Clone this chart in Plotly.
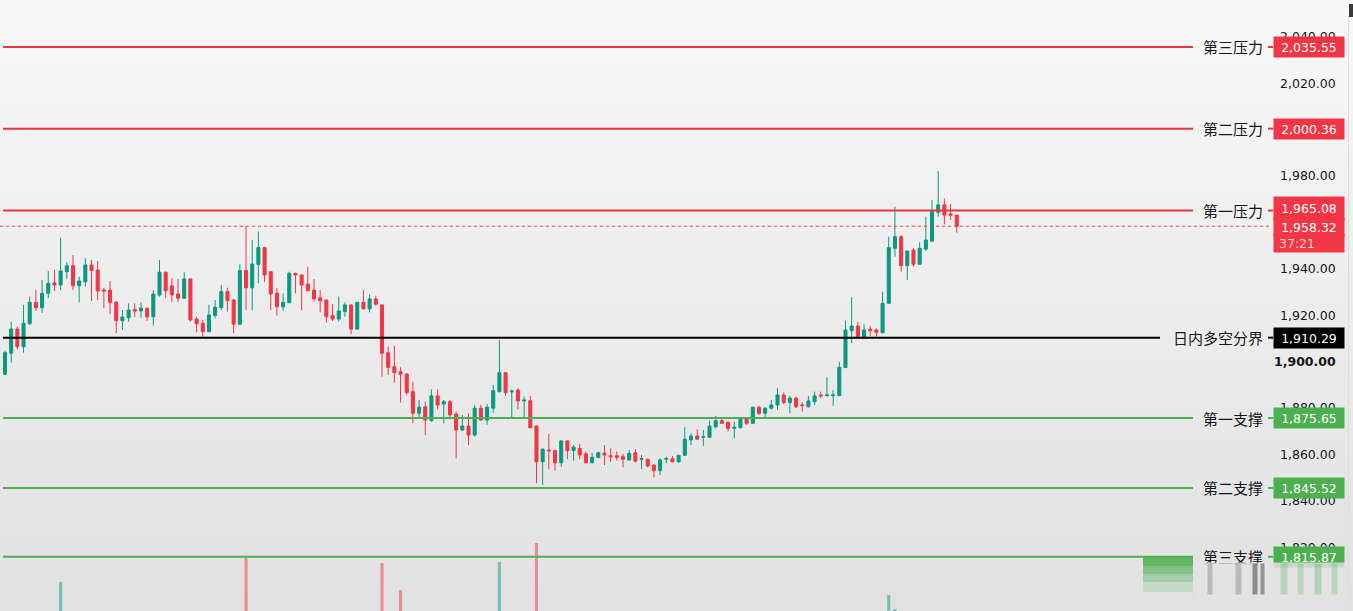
import plotly.graph_objects as go

# ---------------- data ----------------
opens = [
    1894.5, 1903.6, 1914.0, 1906.4, 1916.3, 1925.5, 1923.2, 1929.4, 1933.9, 1933.0,
    1938.7, 1941.3, 1932.7, 1934.4, 1941.6, 1939.4, 1930.8, 1930.8, 1925.5, 1917.6,
    1918.9, 1922.4, 1921.8, 1923.0, 1919.3, 1928.7, 1938.5, 1932.6, 1929.1, 1927.3,
    1935.6, 1918.3, 1916.5, 1912.9, 1919.8, 1923.2, 1930.1, 1926.5, 1916.1, 1939.2,
    1931.8, 1941.9, 1949.1, 1938.7, 1929.5, 1923.6, 1925.4, 1938.0, 1937.3, 1933.4,
    1930.8, 1927.5, 1926.5, 1919.8, 1918.3, 1921.5, 1924.4, 1914.0, 1925.5, 1922.7,
    1927.0, 1924.4, 1903.8, 1897.8, 1895.6, 1894.6, 1887.0, 1877.7, 1880.5, 1874.5,
    1885.2, 1881.7, 1882.7, 1877.4, 1870.5, 1872.2, 1868.3, 1879.9, 1874.8, 1879.9,
    1887.0, 1895.2, 1886.9, 1887.7, 1883.0, 1883.1, 1872.2, 1856.8, 1861.9, 1861.6,
    1856.4, 1865.8, 1861.6, 1862.6, 1860.2, 1856.4, 1858.7, 1860.5, 1859.4, 1859.4,
    1859.0, 1857.6, 1860.7, 1857.9, 1857.9, 1855.4, 1853.0, 1857.9, 1858.1, 1856.8,
    1859.6, 1866.2, 1867.9, 1867.4, 1867.4, 1871.9, 1874.5, 1873.8, 1871.2, 1871.5,
    1875.2, 1873.4, 1880.3, 1877.7, 1879.9, 1881.3, 1885.6, 1882.3, 1884.2, 1881.3,
    1880.5, 1882.7, 1885.6, 1885.3, 1885.3, 1885.3, 1897.4, 1913.3, 1915.3, 1910.0,
    1913.9, 1913.6, 1912.4, 1925.1, 1948.8, 1953.8, 1941.3, 1948.0, 1941.9, 1948.5,
    1951.9, 1964.3, 1967.5, 1963.6, 1963.1]

highs = [
    1904.6, 1917.2, 1915.0, 1924.4, 1928.0, 1930.8, 1935.2, 1939.0, 1939.5, 1953.4,
    1942.8, 1945.9, 1936.6, 1944.5, 1943.8, 1943.3, 1931.8, 1934.7, 1926.1, 1922.2,
    1925.1, 1925.1, 1925.5, 1923.1, 1930.8, 1943.8, 1938.7, 1935.9, 1935.6, 1938.5,
    1935.9, 1919.3, 1917.9, 1924.4, 1926.5, 1933.0, 1931.8, 1927.0, 1941.9, 1958.4,
    1952.4, 1956.0, 1949.4, 1938.9, 1931.6, 1929.4, 1938.7, 1938.3, 1937.5, 1940.9,
    1935.6, 1930.8, 1926.7, 1924.7, 1928.0, 1925.5, 1924.6, 1925.8, 1930.8, 1929.0,
    1928.4, 1924.6, 1906.4, 1906.7, 1897.5, 1894.9, 1891.3, 1883.4, 1882.7, 1888.0,
    1888.0, 1883.4, 1883.4, 1878.4, 1877.0, 1877.7, 1881.3, 1881.3, 1881.7, 1889.9,
    1909.3, 1895.4, 1888.0, 1888.5, 1884.9, 1885.2, 1872.4, 1862.6, 1868.8, 1862.0,
    1866.0, 1866.0, 1864.0, 1864.5, 1861.2, 1860.7, 1861.2, 1864.0, 1862.6, 1861.2,
    1860.2, 1861.9, 1862.2, 1859.7, 1858.1, 1855.6, 1858.3, 1859.0, 1859.3, 1859.7,
    1871.7, 1869.1, 1870.8, 1870.5, 1874.5, 1876.5, 1875.5, 1874.1, 1874.1, 1876.0,
    1875.6, 1880.6, 1880.9, 1880.3, 1883.4, 1888.5, 1886.6, 1885.2, 1884.9, 1882.4,
    1885.2, 1887.0, 1887.0, 1893.2, 1887.7, 1899.9, 1917.6, 1927.7, 1917.2, 1916.0,
    1915.4, 1914.3, 1930.1, 1953.8, 1966.7, 1954.5, 1947.8, 1948.8, 1951.4, 1962.4,
    1969.6, 1982.1, 1970.3, 1967.8, 1963.3]

lows = [
    1894.2, 1899.5, 1905.3, 1903.8, 1915.7, 1921.8, 1921.0, 1927.3, 1930.4, 1930.7,
    1935.6, 1930.8, 1925.5, 1932.3, 1926.1, 1926.5, 1923.0, 1920.4, 1912.2, 1913.6,
    1917.2, 1919.3, 1918.9, 1917.5, 1915.5, 1928.0, 1927.3, 1925.8, 1925.8, 1927.0,
    1917.2, 1912.6, 1909.7, 1912.6, 1918.6, 1922.2, 1921.5, 1912.2, 1915.7, 1922.2,
    1922.2, 1933.7, 1934.2, 1922.2, 1919.8, 1921.9, 1925.1, 1929.4, 1922.2, 1930.3,
    1925.8, 1921.2, 1916.8, 1917.5, 1917.2, 1919.3, 1911.8, 1913.6, 1922.5, 1921.2,
    1924.1, 1893.5, 1894.2, 1890.9, 1882.3, 1885.6, 1873.4, 1875.5, 1868.3, 1874.1,
    1879.4, 1873.4, 1875.1, 1858.3, 1870.2, 1864.0, 1867.6, 1874.5, 1872.7, 1878.0,
    1886.8, 1885.2, 1876.0, 1879.4, 1876.0, 1871.2, 1847.5, 1846.8, 1853.6, 1853.0,
    1854.7, 1857.9, 1857.3, 1857.9, 1856.2, 1856.1, 1858.3, 1855.4, 1856.8, 1857.3,
    1854.4, 1857.3, 1856.4, 1853.6, 1854.4, 1850.1, 1851.1, 1856.2, 1856.6, 1856.4,
    1859.3, 1864.0, 1866.2, 1863.7, 1866.9, 1871.2, 1873.1, 1869.8, 1866.9, 1871.2,
    1872.7, 1873.1, 1877.0, 1876.0, 1879.4, 1879.1, 1881.7, 1877.7, 1879.9, 1878.4,
    1880.3, 1881.3, 1884.2, 1884.9, 1881.0, 1885.1, 1897.2, 1907.9, 1909.8, 1909.8,
    1911.0, 1910.7, 1912.2, 1924.9, 1945.2, 1938.7, 1935.2, 1940.9, 1941.7, 1947.6,
    1951.4, 1962.4, 1959.1, 1961.0, 1955.5]

closes = [
    1903.8, 1914.0, 1906.4, 1916.5, 1925.5, 1923.2, 1929.4, 1933.7, 1933.0, 1939.0,
    1941.3, 1932.7, 1934.7, 1941.6, 1939.2, 1930.4, 1930.4, 1925.5, 1917.6, 1919.2,
    1922.2, 1921.8, 1923.0, 1919.3, 1929.1, 1938.5, 1930.5, 1928.7, 1927.3, 1935.6,
    1917.9, 1916.3, 1912.9, 1920.1, 1923.4, 1930.1, 1926.2, 1916.1, 1939.2, 1931.8,
    1942.0, 1949.1, 1937.3, 1929.1, 1923.6, 1925.5, 1938.0, 1937.3, 1933.0, 1930.5,
    1927.0, 1926.2, 1919.3, 1918.3, 1921.8, 1924.4, 1914.0, 1925.5, 1922.7, 1927.0,
    1924.7, 1903.6, 1897.5, 1895.2, 1894.5, 1886.6, 1877.7, 1880.3, 1874.8, 1885.2,
    1881.3, 1882.7, 1877.0, 1870.5, 1872.2, 1868.3, 1879.9, 1874.8, 1880.3, 1887.4,
    1895.2, 1886.6, 1887.3, 1883.0, 1883.4, 1871.5, 1856.8, 1862.2, 1861.5, 1856.4,
    1865.8, 1861.6, 1863.1, 1859.7, 1856.4, 1858.7, 1860.7, 1859.7, 1859.0, 1858.7,
    1857.9, 1860.5, 1857.1, 1858.1, 1855.0, 1853.0, 1857.6, 1858.2, 1856.8, 1859.6,
    1866.5, 1867.9, 1866.6, 1867.6, 1872.2, 1874.5, 1873.4, 1871.2, 1871.7, 1875.5,
    1873.4, 1880.3, 1877.7, 1879.9, 1881.3, 1885.6, 1882.3, 1884.2, 1880.5, 1881.0,
    1883.0, 1885.2, 1885.2, 1885.6, 1885.6, 1897.5, 1913.6, 1915.3, 1910.0, 1913.6,
    1913.3, 1912.6, 1925.1, 1949.1, 1953.8, 1941.3, 1947.6, 1941.9, 1948.8, 1952.4,
    1964.6, 1967.5, 1963.1, 1963.1, 1958.32]

volumes = [
    18.2, 22.5, 16.8, 24.1, 19.6, 14.3, 17.9, 15.2, 12.8, 44.5,
    16.4, 21.7, 13.5, 17.2, 12.1, 19.8, 9.6, 15.3, 20.4, 11.2,
    12.7, 8.9, 10.4, 9.1, 18.6, 21.3, 16.9, 12.2, 10.8, 14.7,
    22.8, 13.6, 15.9, 17.3, 11.5, 14.8, 12.4, 16.1, 27.5, 56.5,
    24.2, 21.6, 19.3, 18.7, 15.4, 10.9, 20.2, 9.7, 14.5, 13.1,
    12.6, 10.3, 13.8, 11.4, 12.9, 9.5, 18.4, 19.1, 12.3, 11.8,
    8.7, 54.0, 23.6, 21.4, 40.5, 22.9, 26.3, 15.7, 20.8, 19.4,
    14.2, 16.6, 13.9, 24.7, 12.5, 17.1, 18.9, 14.6, 15.8, 21.2,
    54.5, 26.1, 18.3, 15.6, 14.1, 20.5, 64.0, 28.4, 22.7, 16.2,
    17.8, 13.2, 11.7, 12.9, 14.4, 10.6, 9.3, 11.9, 8.8, 7.9,
    10.2, 9.4, 11.1, 9.9, 10.7, 13.4, 12.0, 8.5, 7.6, 9.2,
    16.3, 10.1, 9.8, 8.4, 13.7, 11.3, 7.8, 9.0, 8.6, 12.1,
    8.3, 14.9, 10.5, 9.6, 8.9, 13.3, 10.4, 9.5, 8.2, 7.7,
    9.1, 10.8, 7.4, 11.6, 8.1, 19.7, 27.9, 23.8, 15.1, 12.6,
    9.9, 8.7, 25.4, 38.0, 31.0, 26.6, 22.3, 18.8, 17.4, 24.9,
    27.2, 29.1, 21.5, 14.0, 11.3]

level_names = ["第三压力", "第二压力", "第一压力", "日内多空分界", "第一支撑", "第二支撑", "第三支撑"]
level_values = [2035.55, 2000.36, 1965.08, 1910.29, 1875.65, 1845.52, 1815.87]
level_kinds = ["resist", "resist", "resist", "pivot", "support", "support", "support"]

tick_values = [2040, 2020, 1980, 1940, 1920, 1900, 1880, 1860, 1840, 1820]
tick_labels = ["2,040.00", "2,020.00", "1,980.00", "1,940.00", "1,920.00",
               "1,900.00", "1,880.00", "1,860.00", "1,840.00", "1,820.00"]

last_price = 1958.32
countdown = "37:21"

# ---------------- styling ----------------
W, H = 1353, 611
UP = "#089981"
DOWN = "#F23645"
RED_LINE = "#EB3441"
GREEN_LINE = "#4CAF50"
BLACK = "#000000"
TXT = "#131722"
NUM_FONT = "DejaVu Sans"
CJK_FONT = "Noto Sans CJK SC"

kind_color = {"resist": RED_LINE, "pivot": BLACK, "support": GREEN_LINE}
kind_box = {"resist": DOWN, "pivot": BLACK, "support": GREEN_LINE}


def px(xp):
    return xp / W


def py(yp):
    return 1 - yp / H


idx = list(range(len(opens)))
vol_colors = ["rgba(8,153,129,0.5)" if c >= o else "rgba(242,54,69,0.5)"
              for o, c in zip(opens, closes)]

fig = go.Figure()
fig.add_trace(go.Bar(x=idx, y=volumes, yaxis="y2", width=0.5,
                     marker=dict(color=vol_colors, line=dict(width=0)),
                     hoverinfo="skip", showlegend=False))
fig.add_trace(go.Candlestick(
    x=idx, open=opens, high=highs, low=lows, close=closes,
    increasing=dict(line=dict(color=UP, width=1), fillcolor=UP),
    decreasing=dict(line=dict(color=DOWN, width=1), fillcolor=DOWN),
    whiskerwidth=0, showlegend=False, hoverinfo="skip"))

shapes = []
# background gradient (vertical)
n_bands = 61
top_c, bot_c = 248, 225
for i in range(n_bands):
    v = round(top_c + (bot_c - top_c) * i / (n_bands - 1))
    shapes.append(dict(type="rect", xref="paper", yref="paper",
                       x0=0, x1=1, y0=1 - (i + 1) / n_bands, y1=1 - i / n_bands + 0.002,
                       fillcolor=f"rgb({v},{v},{v})", line=dict(width=0), layer="below"))

# level lines
for name, val, kind in zip(level_names, level_values, level_kinds):
    end = 1160 if kind == "pivot" else 1193
    shapes.append(dict(type="line", xref="paper", yref="y", x0=px(3), x1=px(end),
                       y0=val, y1=val, line=dict(color=kind_color[kind], width=2)))
    shapes.append(dict(type="line", xref="paper", yref="y", x0=px(1268), x1=px(1273),
                       y0=val, y1=val, line=dict(color=kind_color[kind], width=2)))

# current price dotted line
shapes.append(dict(type="line", xref="paper", yref="y", x0=0, x1=px(1270),
                   y0=last_price, y1=last_price,
                   line=dict(color=DOWN, width=1, dash="dot")))

# right edge details
shapes.append(dict(type="line", xref="paper", yref="paper", x0=px(1348.5), x1=px(1348.5),
                   y0=0, y1=py(16), line=dict(color="#dcdcdc", width=1)))
shapes.append(dict(type="rect", xref="paper", yref="paper", x0=px(1349), x1=px(1353),
                   y0=py(17), y1=py(4), fillcolor="#3a3a3a", line=dict(width=0)))

# faded green streak under the third support line (watermark blur)
for y0, y1, a in [(557, 566, 0.85), (566, 574, 0.62), (574, 582, 0.4), (582, 592, 0.18)]:
    shapes.append(dict(type="rect", xref="paper", yref="paper", x0=px(1143), x1=px(1193),
                       y0=py(y1), y1=py(y0), fillcolor=f"rgba(76,175,80,{a})",
                       line=dict(width=0)))

annotations = []
# price scale tick labels
for v, lab in zip(tick_values, tick_labels):
    text = f"<b>{lab}</b>" if v == 1900 else lab
    annotations.append(dict(x=px(1338), xref="paper", y=v, yref="y", text=text,
                            xanchor="right", yanchor="middle", showarrow=False,
                            font=dict(family=NUM_FONT, size=12.5, color=TXT)))

# level labels and price boxes
for name, val, kind in zip(level_names, level_values, level_kinds):
    annotations.append(dict(x=px(1265), xref="paper", y=val, yref="y", text=name,
                            xanchor="right", yanchor="middle", showarrow=False,
                            font=dict(family=CJK_FONT, size=15, color=TXT)))
    is_first = abs(val - 1965.08) < 1e-6
    annotations.append(dict(x=px(1308.5), xref="paper", y=val, yref="y",
                            text=f"{val:,.2f}", xanchor="center", yanchor="middle",
                            showarrow=False, width=68, height=21 if is_first else 18,
                            borderpad=1, bgcolor=kind_box[kind],
                            yshift=2 if is_first else 0,
                            font=dict(family=NUM_FONT, size=12.5, color="#ffffff")))

# current price box with countdown
annotations.append(dict(x=px(1308.5), xref="paper", y=last_price, yref="y",
                        text=f"{last_price:,.2f}", xanchor="center", yanchor="middle",
                        showarrow=False, width=68, height=16, borderpad=1, bgcolor=DOWN,
                        yshift=-1, font=dict(family=NUM_FONT, size=12.5, color="#ffffff")))
annotations.append(dict(x=px(1308.5), xref="paper", y=last_price, yref="y",
                        text="&nbsp;" + countdown, xanchor="center", yanchor="middle",
                        align="left", showarrow=False, width=68, height=16, borderpad=1,
                        bgcolor=DOWN, yshift=-17,
                        font=dict(family=NUM_FONT, size=12.5, color="#ffd0d4")))

# watermark-like blur at bottom right
annotations.append(dict(x=px(1195), xref="paper", y=py(562), yref="paper", text=" ",
                        xanchor="left", yanchor="top",
                        showarrow=False, width=150, height=36, borderpad=0,
                        bgcolor="rgba(228,228,228,0.8)"))
for xs, w, col in [(1210, 4, "rgba(90,90,90,0.30)"), (1238, 5, "rgba(90,90,90,0.30)"),
                   (1255, 4, "rgba(30,30,30,0.45)"), (1262, 3, "rgba(30,30,30,0.40)"),
                   (1284, 6, "rgba(76,175,80,0.30)"), (1300, 5, "rgba(76,175,80,0.25)"),
                   (1318, 6, "rgba(76,175,80,0.30)"), (1334, 5, "rgba(76,175,80,0.25)")]:
    annotations.append(dict(x=px(xs), xref="paper", y=py(563), yref="paper", text=" ",
                            xanchor="center", yanchor="top",
                            showarrow=False, width=w, height=30, borderpad=0,
                            bgcolor=col))

fig.update_layout(
    width=W, height=H,
    margin=dict(l=0, r=0, t=0, b=0, pad=0),
    paper_bgcolor="#ececec",
    plot_bgcolor="rgba(0,0,0,0)",
    showlegend=False,
    boxgap=0.3,
    xaxis=dict(range=[-0.809, 218.12], visible=False, showgrid=False, zeroline=False,
               rangeslider=dict(visible=False), fixedrange=True),
    yaxis=dict(range=[1792.5, 2055.8], visible=False, showgrid=False, zeroline=False,
               fixedrange=True),
    yaxis2=dict(range=[30, 335.5], overlaying="y", visible=False, showgrid=False,
                zeroline=False, fixedrange=True),
    shapes=shapes,
    annotations=annotations,
)

fig.write_html("out.html", config={"displayModeBar": False})
